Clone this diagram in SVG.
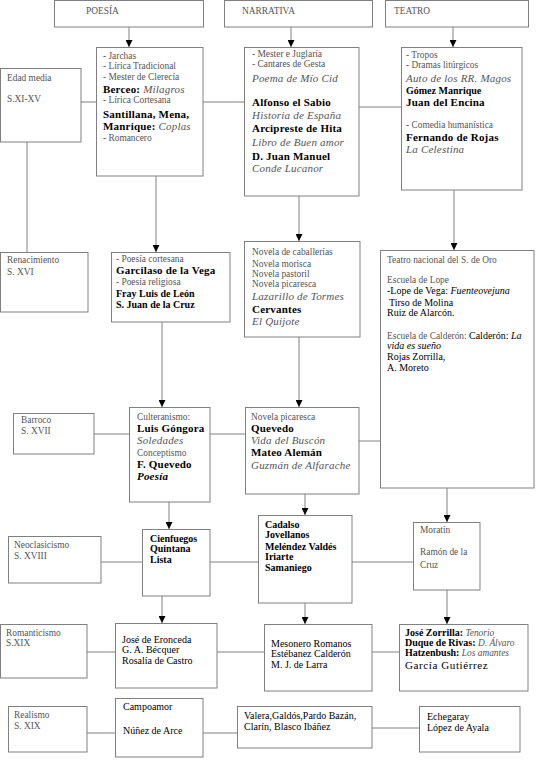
<svg xmlns="http://www.w3.org/2000/svg" width="543" height="760" viewBox="0 0 543 760">
<style>
.bx{fill:#fff;stroke:#808080;stroke-width:1}
.ln{stroke:#808080;stroke-width:1;fill:none}
.ar{stroke:#808080;stroke-width:1;fill:none;marker-end:url(#ah)}
text{font-family:"Liberation Serif","Times New Roman",serif}
.s{font-size:9.4px;fill:#555}
.b{font-size:11px;font-weight:bold;fill:#000;letter-spacing:0.2px}
.i{font-size:11px;font-style:italic;fill:#555;letter-spacing:0.2px}
.n{font-size:10px;fill:#000}
.nb{font-size:10px;font-weight:bold;fill:#000}
.ik{font-style:italic;fill:#000}
.si{font-size:9.4px;font-style:italic;fill:#555}
</style>
<defs>
<marker id="ah" markerUnits="userSpaceOnUse" markerWidth="7" markerHeight="7" refX="7" refY="3.5" orient="auto">
<path d="M0,0 L7,3.5 L0,7 z" fill="#000"/>
</marker>
</defs>
<rect width="543" height="760" fill="#fff"/>

<g id="connectors">
<line class="ar" x1="129" y1="27" x2="129" y2="47"/>
<line class="ar" x1="291" y1="27" x2="291" y2="47"/>
<line class="ar" x1="453" y1="27" x2="453" y2="47"/>
<line class="ln" x1="81" y1="102" x2="96" y2="102"/>
<line class="ln" x1="203" y1="102" x2="244" y2="102"/>
<line class="ln" x1="359" y1="107" x2="401" y2="107"/>
<line class="ln" x1="27" y1="142" x2="27" y2="252"/>
<line class="ar" x1="156" y1="176" x2="156" y2="252"/>
<line class="ar" x1="299" y1="196" x2="299" y2="241"/>
<line class="ar" x1="454" y1="190" x2="454" y2="250"/>
<line class="ar" x1="162" y1="322" x2="162" y2="407"/>
<line class="ar" x1="299" y1="337" x2="299" y2="407"/>
<line class="ln" x1="94" y1="434" x2="129" y2="434"/>
<line class="ln" x1="210" y1="434" x2="245" y2="434"/>
<line class="ln" x1="359" y1="441" x2="380" y2="441"/>
<line class="ar" x1="169" y1="502" x2="169" y2="529"/>
<line class="ar" x1="305" y1="494" x2="305" y2="515"/>
<line class="ar" x1="447" y1="488" x2="447" y2="522"/>
<line class="ln" x1="101" y1="562" x2="142" y2="562"/>
<line class="ln" x1="210" y1="562" x2="258" y2="562"/>
<line class="ln" x1="352" y1="562" x2="413" y2="562"/>
<line class="ar" x1="162" y1="596" x2="162" y2="623"/>
<line class="ar" x1="305" y1="603" x2="305" y2="624"/>
<line class="ar" x1="447" y1="590" x2="447" y2="624"/>
<line class="ln" x1="87" y1="652" x2="115" y2="652"/>
<line class="ln" x1="217" y1="652" x2="264" y2="652"/>
<line class="ln" x1="372" y1="652" x2="399" y2="652"/>
<line class="ln" x1="87" y1="733" x2="115" y2="733"/>
<line class="ln" x1="203" y1="733" x2="237" y2="733"/>
<line class="ln" x1="372" y1="728" x2="419" y2="728"/>
</g>

<g id="h-poesia"><rect class="bx" x="54.5" y="0.5" width="149" height="26.5"/><text class="s" x="86" y="14">POESÍA</text></g>
<g id="h-narrativa"><rect class="bx" x="224.5" y="0.5" width="148" height="26.5"/><text class="s" x="242" y="14">NARRATIVA</text></g>
<g id="h-teatro"><rect class="bx" x="385.5" y="0.5" width="143" height="26.5"/><text class="s" x="394" y="14">TEATRO</text></g>

<g id="edad-media"><rect class="bx" x="0.5" y="68.5" width="80.5" height="73.5"/><text class="s" x="7" y="81">Edad media</text><text class="s" x="7" y="102">S.XI-XV</text></g>
<g id="em-poesia"><rect class="bx" x="96.5" y="47.5" width="106.5" height="128.5"/>
<text class="s" x="103" y="59">- Jarchas</text>
<text class="s" x="103" y="69">- Lírica Tradicional</text>
<text class="s" x="103" y="80">- Mester de Clerecía</text>
<text x="103" y="93"><tspan class="b">Berceo:</tspan><tspan class="i"> Milagros</tspan></text>
<text class="s" x="103" y="103">- Lírica Cortesana</text>
<text class="b" x="103" y="118">Santillana, Mena,</text>
<text x="103" y="130"><tspan class="b">Manrique:</tspan><tspan class="i"> Coplas</tspan></text>
<text class="s" x="103" y="141">- Romancero</text>
</g>
<g id="em-narrativa"><rect class="bx" x="244.5" y="47.5" width="114.5" height="148.5"/>
<text class="s" x="252" y="57">- Mester e Juglaría</text>
<text class="s" x="252" y="67">- Cantares de Gesta</text>
<text class="i" x="252" y="82">Poema de Mío Cid</text>
<text class="b" x="252" y="106">Alfonso el Sabio</text>
<text class="i" x="252" y="119">Historia de España</text>
<text class="b" x="252" y="132">Arcipreste de Hita</text>
<text class="i" x="252" y="146">Libro de Buen amor</text>
<text class="b" x="252" y="160">D. Juan Manuel</text>
<text class="i" x="252" y="172">Conde Lucanor</text>
</g>
<g id="em-teatro"><rect class="bx" x="401.5" y="47.5" width="120.5" height="142.5"/>
<text class="s" x="406" y="58">- Tropos</text>
<text class="s" x="406" y="68">- Dramas litúrgicos</text>
<text class="i" x="406" y="82">Auto de los RR. Magos</text>
<text class="nb" x="406" y="94">Gómez Manrique</text>
<text class="b" x="406" y="106">Juan del Encina</text>
<text class="s" x="406" y="128">- Comedia humanística</text>
<text class="b" x="406" y="141">Fernando de Rojas</text>
<text class="i" x="406" y="153">La Celestina</text>
</g>

<g id="renacimiento"><rect class="bx" x="0.5" y="252.5" width="87.5" height="59.5"/><text class="s" x="7" y="263">Renacimiento</text><text class="s" x="7" y="275">S. XVI</text></g>
<g id="ren-poesia"><rect class="bx" x="111.5" y="252.5" width="118.5" height="69.5"/>
<text class="s" x="116" y="262">- Poesía cortesana</text>
<text class="b" x="116" y="274">Garcilaso de la Vega</text>
<text class="s" x="116" y="285">- Poesía religiosa</text>
<text class="nb" x="116" y="297">Fray Luis de León</text>
<text class="nb" x="116" y="308">S. Juan de la Cruz</text>
</g>
<g id="ren-narrativa"><rect class="bx" x="244.5" y="241.5" width="115.5" height="95.5"/>
<text class="s" x="252" y="255">Novela de caballerías</text>
<text class="s" x="252" y="267">Novela morisca</text>
<text class="s" x="252" y="277">Novela pastoril</text>
<text class="s" x="252" y="287">Novela picaresca</text>
<text class="i" x="252" y="300">Lazarillo de Tormes</text>
<text class="b" x="252" y="313">Cervantes</text>
<text class="i" x="252" y="325">El Quijote</text>
</g>
<g id="teatro-nacional"><rect class="bx" x="380.5" y="250.5" width="153.5" height="237.5"/>
<text class="s" x="387" y="263">Teatro nacional del S. de Oro</text>
<text class="s" x="387" y="283">Escuela de Lope</text>
<text class="n" x="387" y="294">-Lope de Vega: <tspan class="ik">Fuenteovejuna</tspan></text>
<text class="n" x="389" y="306">Tirso de Molina</text>
<text class="n" x="387" y="316">Ruiz de Alarcón.</text>
<text x="387" y="339"><tspan class="s">Escuela de Calderón: </tspan><tspan class="n">Calderón: </tspan><tspan class="n ik">La</tspan></text>
<text class="n ik" x="387" y="349">vida es sueño</text>
<text class="n" x="387" y="360">Rojas Zorrilla,</text>
<text class="n" x="387" y="371">A. Moreto</text>
</g>

<g id="barroco"><rect class="bx" x="13.5" y="413.5" width="80.5" height="40.5"/><text class="s" x="21" y="423">Barroco</text><text class="s" x="21" y="434">S. XVII</text></g>
<g id="bar-poesia"><rect class="bx" x="129.5" y="407.5" width="80.5" height="94.5"/>
<text class="s" x="137" y="420">Culteranismo:</text>
<text class="b" x="137" y="432">Luis Góngora</text>
<text class="i" x="137" y="444">Soledades</text>
<text class="s" x="137" y="456">Conceptismo</text>
<text class="b" x="137" y="468">F. Quevedo</text>
<text class="b ik" x="137" y="480">Poesía</text>
</g>
<g id="bar-narrativa"><rect class="bx" x="245.5" y="407.5" width="113.5" height="86.5"/>
<text class="s" x="251" y="420">Novela picaresca</text>
<text class="b" x="251" y="432">Quevedo</text>
<text class="i" x="251" y="444">Vida del Buscón</text>
<text class="b" x="251" y="456">Mateo Alemán</text>
<text class="i" x="251" y="469">Guzmán de Alfarache</text>
</g>

<g id="neoclasicismo"><rect class="bx" x="8.5" y="536.5" width="92.5" height="46.5"/><text class="s" x="14" y="548">Neoclasicismo</text><text class="s" x="14" y="559">S. XVIII</text></g>
<g id="neo-poesia"><rect class="bx" x="142.5" y="529.5" width="67.5" height="66.5"/>
<text class="nb" x="150" y="542">Cienfuegos</text>
<text class="nb" x="150" y="552">Quintana</text>
<text class="nb" x="150" y="563">Lista</text>
</g>
<g id="neo-narrativa"><rect class="bx" x="258.5" y="515.5" width="93.5" height="87.5"/>
<text class="nb" x="265" y="528">Cadalso</text>
<text class="nb" x="265" y="538">Jovellanos</text>
<text class="nb" x="265" y="550">Meléndez Valdés</text>
<text class="nb" x="265" y="560">Iriarte</text>
<text class="nb" x="265" y="571">Samaniego</text>
</g>
<g id="neo-teatro"><rect class="bx" x="413.5" y="522.5" width="66.5" height="67.5"/>
<text class="s" x="420" y="533">Moratín</text>
<text class="s" x="420" y="555">Ramón de la</text>
<text class="s" x="420" y="568">Cruz</text>
</g>

<g id="romanticismo"><rect class="bx" x="0.5" y="624.5" width="86.5" height="53.5"/><text class="s" x="6" y="636">Romanticismo</text><text class="s" x="6" y="646">S.XIX</text></g>
<g id="rom-poesia"><rect class="bx" x="115.5" y="623.5" width="101.5" height="64.5"/>
<text class="n" x="122" y="643">José de Eronceda</text>
<text class="n" x="122" y="653">G. A. Bécquer</text>
<text class="n" x="122" y="664">Rosalía de Castro</text>
</g>
<g id="rom-narrativa"><rect class="bx" x="264.5" y="624.5" width="107.5" height="66.5"/>
<text class="n" x="271" y="647">Mesonero Romanos</text>
<text class="n" x="271" y="657">Estébanez Calderón</text>
<text class="n" x="271" y="668">M. J. de Larra</text>
</g>
<g id="rom-teatro"><rect class="bx" x="399.5" y="624.5" width="128.5" height="66.5"/>
<text x="405" y="636"><tspan class="nb">José Zorrilla:</tspan><tspan class="si"> Tenorio</tspan></text>
<text x="405" y="646"><tspan class="nb">Duque de Rivas:</tspan><tspan class="si"> D. Álvaro</tspan></text>
<text x="405" y="656"><tspan class="nb">Hatzenbush:</tspan><tspan class="si"> Los amantes</tspan></text>
<text class="b" x="405" y="669" style="font-weight:normal;letter-spacing:0.6px">García Gutiérrez</text>
</g>

<g id="realismo"><rect class="bx" x="8.5" y="706.5" width="78.5" height="45.5"/><text class="s" x="14" y="718">Realismo</text><text class="s" x="14" y="729">S. XIX</text></g>
<g id="rea-poesia"><rect class="bx" x="115.5" y="698.5" width="87.5" height="58.5"/>
<text class="n" x="123" y="710">Campoamor</text>
<text class="n" x="123" y="734">Núñez de Arce</text>
</g>
<g id="rea-narrativa"><rect class="bx" x="237.5" y="706.5" width="134.5" height="41.5"/>
<text class="n" x="244" y="719">Valera,Galdós,Pardo Bazán,</text>
<text class="n" x="244" y="730">Clarín, Blasco Ibáñez</text>
</g>
<g id="rea-teatro"><rect class="bx" x="419.5" y="706.5" width="100.5" height="45.5"/>
<text class="n" x="427" y="720">Echegaray</text>
<text class="n" x="427" y="731">López de Ayala</text>
</g>
</svg>
